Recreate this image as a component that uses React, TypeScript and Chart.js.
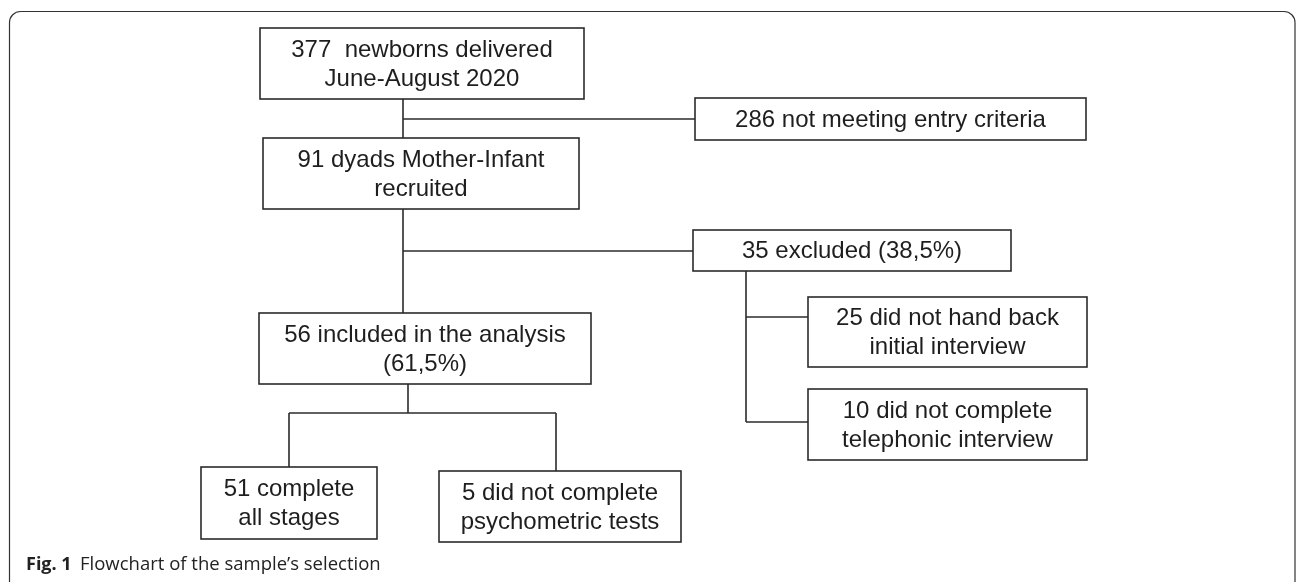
import { useEffect, useRef } from "react";
import { Chart, registerables } from "chart.js";

Chart.register(...registerables);

const W = 1296;
const H = 582;

// Flowchart content
const nodeLines: string[][] = [
  ["377  newborns delivered", "June-August 2020"],
  ["286 not meeting entry criteria"],
  ["91 dyads Mother-Infant", "recruited"],
  ["35 excluded (38,5%)"],
  ["56 included in the analysis", "(61,5%)"],
  ["25 did not hand back", "initial interview"],
  ["10 did not complete", "telephonic interview"],
  ["51 complete", "all stages"],
  ["5 did not complete", "psychometric tests"],
];

// Layout of boxes (in layout units of the diagram)
const boxLeft = [260, 695, 263, 693, 259, 808, 808, 201, 439];
const boxRight = [584, 1086, 579, 1011, 591, 1087, 1087, 377, 681];
const boxTop = [28, 98, 138, 230, 313, 297, 389, 467, 471];
const boxBottom = [99, 140, 209, 271, 384, 367, 460, 539, 542];

// Connector segments: [x1, y1, x2, y2]
const connectors: number[][] = [
  [403, 99, 403, 138],
  [403, 209, 403, 313],
  [403, 119, 695, 119],
  [403, 251, 693, 251],
  [746, 271, 746, 422],
  [746, 317, 808, 317],
  [746, 422, 808, 422],
  [408, 384, 408, 413],
  [289, 413, 556, 413],
  [289, 413, 289, 467],
  [556, 413, 556, 471],
];

const captionBold = "Fig. 1";
const captionText = "Flowchart of the sample\u2019s selection";

const LINE_COLOR = "#2b2b2b";
const TEXT_COLOR = "#1e1e1e";

const flowPlugin = {
  id: "flowPlugin",
  beforeDatasetsDraw(chart: any) {
    const ctx = chart.ctx;
    const xs = chart.scales.x;
    const ys = chart.scales.y;
    ctx.save();
    // outer frame
    ctx.strokeStyle = "#333";
    ctx.lineWidth = 1.2;
    ctx.beginPath();
    const fx0 = xs.getPixelForValue(9.5);
    const fy0 = ys.getPixelForValue(11.5);
    const fx1 = xs.getPixelForValue(1295);
    const fy1 = ys.getPixelForValue(592);
    (ctx as any).roundRect(fx0, fy0, fx1 - fx0, fy1 - fy0, 11);
    ctx.stroke();
    ctx.restore();
  },
  afterDatasetsDraw(chart: any) {
    const ctx = chart.ctx;
    const xs = chart.scales.x;
    const ys = chart.scales.y;
    ctx.save();
    for (let i = 0; i < nodeLines.length; i++) {
      const l = xs.getPixelForValue(boxLeft[i]);
      const r = xs.getPixelForValue(boxRight[i]);
      const t = ys.getPixelForValue(boxTop[i]);
      const b = ys.getPixelForValue(boxBottom[i]);
      ctx.fillStyle = "#fff";
      ctx.fillRect(l, t, r - l, b - t);
      ctx.strokeStyle = LINE_COLOR;
      ctx.lineWidth = 1.6;
      ctx.strokeRect(l, t, r - l, b - t);
      ctx.fillStyle = TEXT_COLOR;
      ctx.font = '24px "Liberation Sans", Arial, sans-serif';
      ctx.textAlign = "center";
      ctx.textBaseline = "middle";
      const lines = nodeLines[i];
      const cx = (l + r) / 2;
      const cy = (t + b) / 2;
      const gap = 29;
      lines.forEach((s, k) => {
        const yy = cy + (k - (lines.length - 1) / 2) * gap + 1;
        ctx.fillText(s, cx, yy);
      });
    }
    // caption
    ctx.textAlign = "left";
    ctx.textBaseline = "alphabetic";
    ctx.fillStyle = "#222";
    ctx.font = 'bold 18px "Open Sans", "Noto Sans", sans-serif';
    ctx.fillText(captionBold, xs.getPixelForValue(26), ys.getPixelForValue(570));
    ctx.font = '18.5px "Open Sans", "Noto Sans", sans-serif';
    ctx.fillText(captionText, xs.getPixelForValue(80), ys.getPixelForValue(570));
    ctx.restore();
  },
};

export default function App() {
  const ref = useRef<HTMLCanvasElement | null>(null);
  useEffect(() => {
    if (!ref.current) return;
    const datasets = connectors.map((c) => ({
      data: [
        { x: c[0], y: c[1] },
        { x: c[2], y: c[3] },
      ],
      showLine: true,
      borderColor: LINE_COLOR,
      borderWidth: 1.6,
      pointRadius: 0,
      fill: false,
    }));
    const chart = new Chart(ref.current, {
      type: "scatter",
      data: { datasets },
      options: {
        animation: false,
        responsive: false,
        devicePixelRatio: 1,
        layout: { padding: 0 },
        plugins: { legend: { display: false }, tooltip: { enabled: false }, title: { display: false } },
        scales: {
          x: { type: "linear", min: 0, max: W, display: false },
          y: { type: "linear", min: 0, max: H, reverse: true, display: false },
        },
        events: [],
      },
      plugins: [flowPlugin],
    });
    return () => chart.destroy();
  }, []);
  return (
    <div style={{ position: "fixed", left: 0, top: 0, width: W, height: H, background: "#fff" }}>
      <canvas ref={ref} width={W} height={H} style={{ display: "block", width: W, height: H }} />
    </div>
  );
}
